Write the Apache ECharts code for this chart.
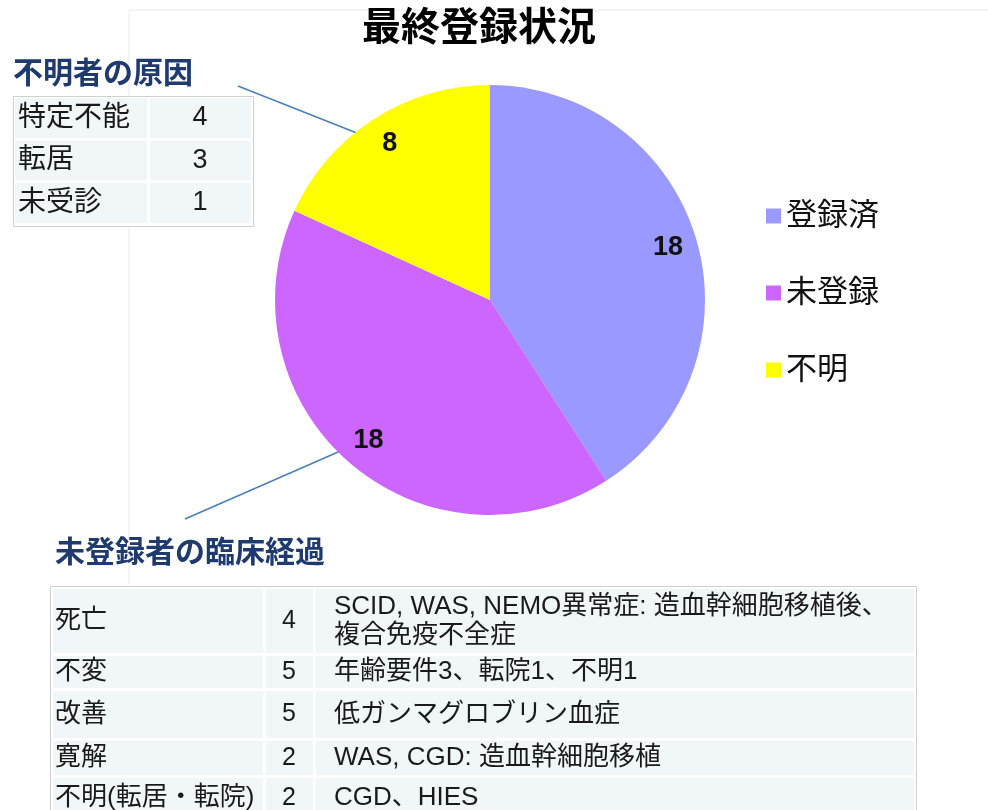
<!DOCTYPE html>
<html>
<head>
<meta charset="utf-8">
<script src="https://cdn.jsdelivr.net/npm/echarts@6/dist/echarts.min.js"></script>
<style>
html, body { margin: 0; padding: 0; background: #fff; }
#chart { width: 988px; height: 810px; }
</style>
</head>
<body>
<!-- 円グラフ -->
<div id="chart"></div>

<script type="text/javascript">
// 最終登録状況
var statusNames = ['登録済', '未登録', '不明'];
var statusValues = [18, 18, 8];
var statusColors = ['#9999ff', '#cc66ff', '#ffff00'];

// 不明者の原因
var causeLabels = ['特定不能', '転居', '未受診'];
var causeCounts = [4, 3, 1];

// 未登録者の臨床経過
var courseLabels = ['死亡', '不変', '改善', '寛解', '不明(転居・転院)'];
var courseCounts = [4, 5, 5, 2, 2];
var courseNotes = [
	'SCID, WAS, NEMO異常症: 造血幹細胞移植後、\n複合免疫不全症',
	'年齢要件3、転院1、不明1',
	'低ガンマグロブリン血症',
	'WAS, CGD: 造血幹細胞移植',
	'CGD、HIES'
];

var chart = echarts.init(document.getElementById('chart'));

var FONT = '"Liberation Sans", "Noto Sans CJK JP", sans-serif';
var NAVY = '#1f3a6e';
var CELL = '#f1f6f9';
var g = [];

function rect(x, y, w, h, fill, stroke) {
	g.push({
		type: 'rect', silent: true,
		shape: { x: x, y: y, width: w, height: h },
		style: { fill: fill, stroke: stroke || null, lineWidth: stroke ? 1 : 0 }
	});
}
function line(x1, y1, x2, y2, color, width) {
	g.push({
		type: 'line', silent: true,
		shape: { x1: x1, y1: y1, x2: x2, y2: y2 },
		style: { stroke: color, lineWidth: width }
	});
}
function text(x, y, str, font, align, color, lh) {
	g.push({
		type: 'text', silent: true, x: x, y: y,
		style: {
			text: str, font: font, fill: color || '#1a1a1a',
			align: align || 'left', verticalAlign: 'middle',
			textAlign: align || 'left', textVerticalAlign: 'middle',
			lineHeight: lh || null
		}
	});
}

// 外枠（薄い線）
line(129, 10, 988, 10, '#ececec', 1);
line(129, 10, 129, 585, '#ececec', 1);

// 不明者の原因
text(13, 72, '不明者の原因', 'bold 30px "Noto Sans CJK JP", sans-serif', 'left', NAVY);
rect(13.5, 96.5, 240, 130, '#fff', '#cfcfcf');
var smallRows = [[98, 40], [141, 39], [183, 40]];
for (var i = 0; i < causeLabels.length; i++) {
	var r = smallRows[i];
	rect(15, r[0], 132, r[1], CELL);
	rect(150, r[0], 101, r[1], CELL);
	text(18, r[0] + r[1] / 2, causeLabels[i], 'normal 28px ' + FONT);
	text(200, r[0] + r[1] / 2, String(causeCounts[i]), 'normal 27px ' + FONT, 'center');
}

// 未登録者の臨床経過
text(55, 551, '未登録者の臨床経過', 'bold 30px "Noto Sans CJK JP", sans-serif', 'left', NAVY);
rect(50.5, 586.5, 866, 260, '#fff', '#cfcfcf');
var rowTop = [589, 656, 691, 741, 778];
var rowH = [64, 32, 47, 34, 40];
for (var j = 0; j < courseLabels.length; j++) {
	var cy = rowTop[j] + rowH[j] / 2;
	rect(53, rowTop[j], 210, rowH[j], CELL);
	rect(266, rowTop[j], 47, rowH[j], CELL);
	rect(316, rowTop[j], 598, rowH[j], CELL);
	text(55, cy, courseLabels[j], 'normal 26px ' + FONT);
	text(289, cy, String(courseCounts[j]), 'normal 25px ' + FONT, 'center');
	text(334, cy, courseNotes[j], 'normal 26px ' + FONT, 'left', '#1a1a1a', 29);
}

// 引き出し線
line(238, 86, 372, 139, '#4a7ebb', 1.5);
line(185, 519, 345, 449, '#4a7ebb', 1.5);

var pieData = statusNames.map(function (n, k) {
	return { name: n, value: statusValues[k], itemStyle: { color: statusColors[k] } };
});

var option = {
	backgroundColor: '#fff',
	animation: false,
	title: {
		text: '最終登録状況',
		left: 362,
		top: 6,
		padding: 0,
		textStyle: { fontFamily: '"Noto Sans CJK JP"', fontWeight: 'bold', fontSize: 39, color: '#000' }
	},
	legend: {
		orient: 'vertical',
		left: 766,
		top: 200,
		padding: 0,
		icon: 'rect',
		itemWidth: 15,
		itemHeight: 15,
		itemGap: 45,
		itemStyle: { borderWidth: 0 },
		textStyle: { fontFamily: FONT, fontSize: 31, lineHeight: 32, color: '#111' },
		data: statusNames
	},
	graphic: { elements: g },
	series: [
		{
			type: 'pie',
			center: [490, 300],
			radius: [0, 215],
			startAngle: 90,
			clockwise: true,
			label: { show: false },
			labelLine: { show: false },
			itemStyle: { borderWidth: 0 },
			emphasis: { disabled: true },
			data: pieData
		},
		{
			// 値ラベル用の透明な層
			type: 'pie',
			center: [490, 300],
			radius: [150, 215],
			startAngle: 90,
			clockwise: true,
			silent: true,
			legendHoverLink: false,
			itemStyle: { color: 'rgba(0,0,0,0)', borderWidth: 0 },
			label: {
				show: true,
				position: 'inside',
				formatter: '{c}',
				fontFamily: FONT,
				fontSize: 27,
				fontWeight: 'bold',
				color: '#111'
			},
			labelLine: { show: false },
			data: statusNames.map(function (n, k) { return { name: n, value: statusValues[k] }; })
		}
	]
};

chart.setOption(option);
</script>
</body>
</html>
